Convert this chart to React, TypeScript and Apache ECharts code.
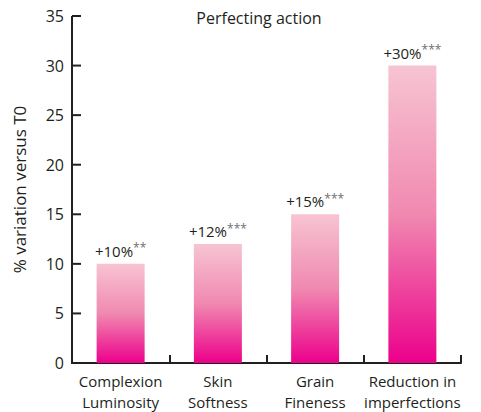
import React, { useEffect, useRef } from "react";
import * as echarts from "echarts";

const categories = ["Complexion\nLuminosity", "Skin\nSoftness", "Grain\nFineness", "Reduction in\nimperfections"];
const values = [10, 12, 15, 30];
const significance = ["**", "***", "***", "***"];
const yTicks = [0, 5, 10, 15, 20, 25, 30, 35];

const FONT = "'Open Sans', 'Noto Sans', sans-serif";
const INK = "#231f20";

export default function App() {
  const ref = useRef<HTMLDivElement>(null);

  useEffect(() => {
    if (!ref.current) return;
    const chart = echarts.init(ref.current, undefined, { renderer: "svg" });
    chart.setOption({
      animation: false,
      title: {
        text: "Perfecting action",
        left: 254,
        top: 5,
        textAlign: "center",
        textStyle: { fontFamily: FONT, fontSize: 16, fontWeight: "normal", color: INK },
      },
      grid: { left: 72, right: 20, top: 16, bottom: 46, containLabel: false },
      xAxis: {
        type: "category",
        data: categories,
        axisLine: { show: true, onZero: false, lineStyle: { color: INK, width: 2 } },
        axisTick: { show: true, inside: true, length: 8, lineStyle: { color: INK, width: 2 } },
        axisLabel: { interval: 0, fontFamily: FONT, fontSize: 15, color: INK, lineHeight: 21, margin: 7 },
      },
      yAxis: {
        type: "value",
        position: "left",
        min: 0,
        max: yTicks[yTicks.length - 1],
        interval: 5,
        name: "% variation versus T0",
        nameLocation: "middle",
        nameGap: 44,
        nameTextStyle: { fontFamily: FONT, fontSize: 17, color: INK },
        axisLine: { show: false },
        axisTick: { show: false },
        axisLabel: { fontFamily: FONT, fontSize: 16, color: INK, margin: 8 },
        splitLine: { show: false },
      },
      series: [
        {
          type: "bar",
          barWidth: 48,
          data: values.map((v, i) => ({
            value: v,
            label: {
              show: true,
              position: "top",
              distance: 4,
              formatter: () => `{v|+${v}%}{s|${significance[i]}}`,
              rich: {
                v: { fontFamily: FONT, fontSize: 15, color: INK },
                s: { fontFamily: FONT, fontSize: 12, color: "#6d6e71", verticalAlign: "top", padding: [0, 0, 6, 0] },
              },
            },
          })),
          itemStyle: {
            color: new echarts.graphic.LinearGradient(0, 0, 0, 1, [
              { offset: 0, color: "#f7c4d2" },
              { offset: 0.5, color: "#f089b0" },
              { offset: 1, color: "#ec008b" },
            ]),
          },
        },
      ],
    });

    // Left axis line and inward ticks, placed through the chart's own scales
    const c0 = chart.convertToPixel({ xAxisIndex: 0 }, 0) as number;
    const c1 = chart.convertToPixel({ xAxisIndex: 0 }, 1) as number;
    const x0 = c0 - (c1 - c0) / 2;
    const yPix = yTicks.map((t) => chart.convertToPixel({ yAxisIndex: 0 }, t) as number);
    const yBottom = yPix[0];
    const yTop = yPix[yPix.length - 1];
    const axisStyle = { stroke: INK, lineWidth: 2 };
    chart.setOption({
      graphic: [
        {
          type: "line",
          z: 10,
          shape: { x1: x0, y1: yTop, x2: x0, y2: yBottom + 1 },
          style: axisStyle,
        },
        ...yPix.slice(1).map((y) => ({
          type: "line",
          z: 10,
          shape: { x1: x0, y1: y, x2: x0 + 9, y2: y },
          style: axisStyle,
        })),
      ],
    });
    return () => chart.dispose();
  }, []);

  return <div ref={ref} style={{ width: 481, height: 412, position: "absolute", left: 0, top: 0 }} />;
}
